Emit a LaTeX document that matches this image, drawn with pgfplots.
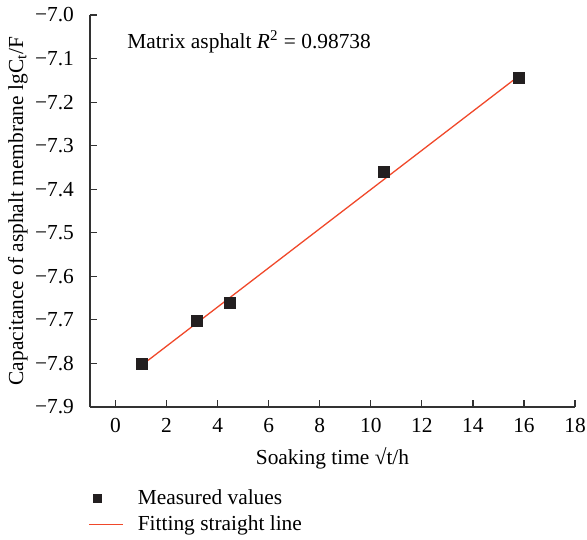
\documentclass[border=0pt]{standalone}
\usepackage{fontspec}
\setmainfont{Liberation Serif}
\usepackage{pgfplots}
\pgfplotsset{compat=1.18}
\definecolor{fitred}{RGB}{240,72,42}
\definecolor{markdark}{RGB}{35,31,32}
\definecolor{axisgray}{RGB}{50,50,50}

\begin{document}
\begin{tikzpicture}[font=\fontsize{10.7}{12.5}\selectfont]
\useasboundingbox (-45pt,-66pt) rectangle (248.5pt,203.5pt);
\begin{axis}[
  scale only axis,
  width=242.5pt, height=196pt,
  xmin=-1, xmax=18, ymin=-7.9, ymax=-7.0,
  axis x line=bottom, axis y line=left,
  axis line style={axisgray, line width=0.65pt, -},
  tick align=inside,
  major tick length=3.5pt,
  tick style={axisgray, line width=0.6pt},
  xtick={0,2,4,6,8,10,12,14,16,18},
  ytick={-7.9,-7.8,-7.7,-7.6,-7.5,-7.4,-7.3,-7.2,-7.1,-7.0},
  yticklabels={−7.9,−7.8,−7.7,−7.6,−7.5,−7.4,−7.3,−7.2,−7.1,−7.0},
  /pgf/number format/assume math mode=true,
  xticklabel style={yshift=-2pt},
  yticklabel style={xshift=-4.5pt},
  xlabel={Soaking time √t/h},
  ylabel={Capacitance of asphalt membrane lgC\textsubscript{t}/F},
  xlabel style={at={(axis description cs:0.5,-0.130)}, anchor=center},
  ylabel style={at={(axis description cs:-0.1485,0.5)}, anchor=center},
  legend style={at={(axis description cs:0,0)}, anchor=north west,
    xshift=-4pt, yshift=-37pt, draw=none, fill=none,
    cells={anchor=west}, row sep=0pt, column sep=5pt},
  legend cell align=left,
]
\addplot[only marks, mark=square*, mark size=2.75pt,
  mark options={fill=markdark, draw=markdark},
  legend image code/.code={\draw[mark repeat=2,mark phase=2,mark size=2pt,##1] plot coordinates {(0cm,0cm) (0.15cm,0cm) (0.6cm,0cm)};}]
  coordinates {(1.05,-7.801) (3.2,-7.703) (4.5,-7.662) (10.5,-7.360) (15.8,-7.145)};
\addlegendentry{Measured values}
\addplot[fitred, line width=0.65pt, no marks]
  coordinates {(1.05,-7.803) (15.8,-7.140)};
\addlegendentry{Fitting straight line}
\node[anchor=west, inner sep=0pt] at (axis cs:0.45,-7.061)
  {Matrix asphalt \textit{R}\textsuperscript{2} = 0.98738};
\end{axis}
\end{tikzpicture}
\end{document}
